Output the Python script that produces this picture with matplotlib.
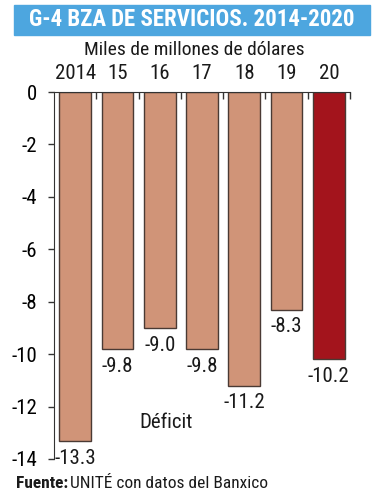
import matplotlib.pyplot as plt
from matplotlib.patches import Rectangle

# data
years = ['2014', '15', '16', '17', '18', '19', '20']
values = [-13.3, -9.8, -9.0, -9.8, -11.2, -8.3, -10.2]
value_labels = ['-13.3', '-9.8', '-9.0', '-9.8', '-11.2', '-8.3', '-10.2']
y_ticks = [0, -2, -4, -6, -8, -10, -12, -14]

plt.rcParams['font.family'] = ['Roboto Condensed', 'Roboto', 'DejaVu Sans']

fig = plt.figure(figsize=(3.81, 5.0), dpi=100)
W, H = 381, 500

# axes placed in pixel coords: left 54, right 350, top 92, bottom 459
ax = fig.add_axes([54 / W, 1 - 459 / H, (350 - 54) / W, (459 - 92) / H])

colors = ['#d09478'] * 6 + ['#a3141c']
x = list(range(len(years)))
ax.bar(x, values, width=0.75, color=colors, edgecolor='#4a3a34', linewidth=1.0, zorder=2)

ax.set_xlim(-0.5, len(years) - 0.5)
ax.set_ylim(-14, 0)

# y axis
ax.set_yticks(y_ticks)
ax.set_yticklabels([str(t) for t in y_ticks], fontsize=15)
ax.tick_params(axis='y', direction='out', length=4, width=1, color='#333333', pad=8)

# x axis on top, ticks between bars
ax.xaxis.tick_top()
ax.set_xticks([i + 0.5 for i in x])
ax.set_xticklabels([])
ax.tick_params(axis='x', direction='in', length=5, width=1, color='#333333')
for i, yr in enumerate(years):
    ax.text(i, 0.35, yr, ha='center', va='bottom', fontsize=15, color='#1a1a1a')

for s in ['right', 'bottom']:
    ax.spines[s].set_visible(False)
ax.spines['left'].set_color('#333333')
ax.spines['top'].set_color('#333333')

# value labels below bars
for i, (v, lab) in enumerate(zip(values, value_labels)):
    ax.text(i, v - 0.3, lab, ha='center', va='top', fontsize=15, color='#1a1a1a')

ax.text(2.15, -12.6, 'Déficit', ha='center', va='center', fontsize=15, color='#1a1a1a')

# title bar
fig.patches.append(Rectangle((14 / W, 1 - 35 / H), (370 - 14) / W, 30 / H,
                             transform=fig.transFigure, color='#4da6df', zorder=0))
fig.text(192 / W, 1 - 20 / H, 'G-4 BZA DE SERVICIOS. 2014-2020', ha='center', va='center',
         fontsize=16.5, fontweight='bold', color='white')

fig.text(194 / W, 1 - 50 / H, 'Miles de millones de dólares', ha='center', va='center',
         fontsize=14, color='#1a1a1a')

# source line: bold label followed by regular text
t = fig.text(16 / W, 1 - 484 / H, 'Fuente:', ha='left', va='center', fontsize=12.5,
             fontweight='bold', color='#1a1a1a')
fig.canvas.draw()
bb = t.get_window_extent()
fig.text((bb.x1 + 2) / W, 1 - 484 / H, 'UNITÉ con datos del Banxico', ha='left', va='center',
         fontsize=12.5, color='#1a1a1a')

fig.savefig('out.png', dpi=100)
